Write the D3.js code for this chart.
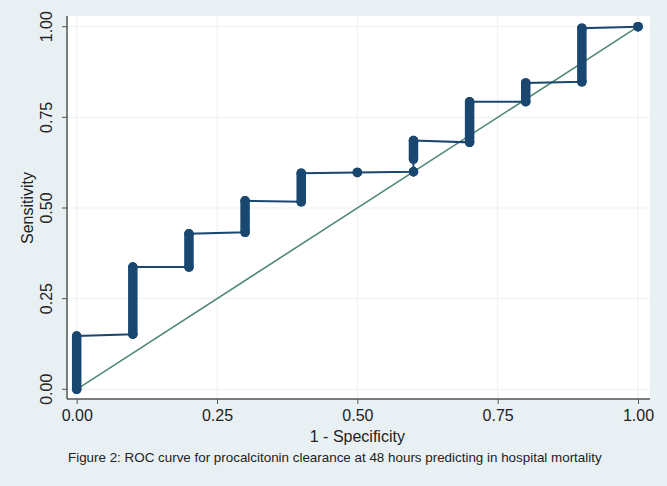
<!DOCTYPE html>
<html>
<head>
<meta charset="utf-8">
<script src="https://cdnjs.cloudflare.com/ajax/libs/d3/7.8.5/d3.min.js"></script>
<style>
  body { margin: 0; background: #e9f0f3; }
  svg { display: block; font-family: "Liberation Sans", Arial, sans-serif; }
</style>
</head>
<body>
<svg></svg>
<script>
  // ROC steps: false positive rate, lowest and highest sensitivity at that rate
  let fpr      = [0,     0.1,   0.2,   0.3,   0.4,   0.5,   0.6,   0.6,   0.7,   0.8,   0.9,   1.0];
  let sensLow  = [0,     0.152, 0.337, 0.433, 0.517, 0.598, 0.600, 0.635, 0.681, 0.793, 0.848, 1.0];
  let sensHigh = [0.147, 0.337, 0.429, 0.520, 0.596, 0.598, 0.600, 0.686, 0.793, 0.845, 0.996, 1.0];
  let ticks = [0, 0.25, 0.5, 0.75, 1];
  let xTitle = "1 - Specificity";
  let yTitle = "Sensitivity";
  let caption = "Figure 2: ROC curve for procalcitonin clearance at 48 hours predicting in hospital mortality";

  let width = 667, height = 486;
  let plot = {left: 67, right: 650, top: 16, bottom: 399};
  let svg = d3.select("svg").attr("width", width).attr("height", height);

  svg.append("rect").attr("width", width).attr("height", height).attr("fill", "#e9f0f3");
  svg.append("rect")
    .attr("x", plot.left).attr("y", plot.top)
    .attr("width", plot.right - plot.left).attr("height", plot.bottom - plot.top)
    .attr("fill", "#ffffff");

  let x = d3.scaleLinear().domain([0, 1]).range([76.7, 638]);
  let y = d3.scaleLinear().domain([0, 1]).range([389.3, 26.7]);

  // grid
  let grid = svg.append("g").attr("stroke", "#eaf1f3").attr("stroke-width", 1);
  ticks.forEach(function(t) {
    grid.append("line").attr("x1", plot.left).attr("x2", plot.right).attr("y1", y(t)).attr("y2", y(t));
    grid.append("line").attr("y1", plot.top).attr("y2", plot.bottom).attr("x1", x(t)).attr("x2", x(t));
  });

  // axes
  let fmt = d3.format(".2f");
  let yAxis = svg.append("g").attr("transform", "translate(" + plot.left + ",0)")
    .call(d3.axisLeft(y).tickValues(ticks).tickFormat(fmt).tickSize(5).tickPadding(4));
  let xAxis = svg.append("g").attr("transform", "translate(0," + plot.bottom + ")")
    .call(d3.axisBottom(x).tickValues(ticks).tickFormat(fmt).tickSize(5).tickPadding(6));
  [xAxis, yAxis].forEach(function(a) {
    a.select(".domain").remove();
    a.selectAll("line").attr("stroke", "#555");
    a.selectAll("text").attr("fill", "#222").style("font-size", "16px")
      .style("font-family", "'Liberation Sans', Arial, sans-serif");
  });
  yAxis.selectAll(".tick").attr("transform", "translate(0,0)");
  yAxis.selectAll(".tick line").attr("y1", d => y(d)).attr("y2", d => y(d));
  yAxis.selectAll("text")
    .attr("text-anchor", "middle")
    .attr("x", 0).attr("y", 0).attr("dy", 0)
    .attr("transform", d => "translate(-15," + y(d) + ") rotate(-90)");

  svg.append("line").attr("x1", plot.left).attr("x2", plot.left).attr("y1", plot.top).attr("y2", plot.bottom)
    .attr("stroke", "#555").attr("stroke-width", 1.5);
  svg.append("line").attr("x1", plot.left).attr("x2", plot.right).attr("y1", plot.bottom).attr("y2", plot.bottom)
    .attr("stroke", "#555").attr("stroke-width", 1.5);

  // reference diagonal
  svg.append("line")
    .attr("x1", x(0)).attr("y1", y(0)).attr("x2", x(1)).attr("y2", y(1))
    .attr("stroke", "#4f8a6e").attr("stroke-width", 1.6);

  // step line through all points
  let pts = [];
  fpr.forEach(function(f, i) {
    pts.push([f, sensLow[i]]);
    pts.push([f, sensHigh[i]]);
  });
  let navy = "#1a476f";
  svg.append("path")
    .datum(pts)
    .attr("fill", "none").attr("stroke", navy).attr("stroke-width", 2)
    .attr("d", d3.line().x(d => x(d[0])).y(d => y(d[1])));

  // markers: dense runs of points drawn as thick rounded bars
  let marks = svg.append("g");
  fpr.forEach(function(f, i) {
    marks.append("line")
      .attr("x1", x(f)).attr("x2", x(f))
      .attr("y1", y(sensLow[i])).attr("y2", y(sensHigh[i]))
      .attr("stroke", navy).attr("stroke-width", 9.5).attr("stroke-linecap", "round");
    marks.append("circle").attr("cx", x(f)).attr("cy", y(sensLow[i])).attr("r", 4.75).attr("fill", navy);
    marks.append("circle").attr("cx", x(f)).attr("cy", y(sensHigh[i])).attr("r", 4.75).attr("fill", navy);
  });

  // titles
  svg.append("text").attr("x", (x(0) + x(1)) / 2).attr("y", 441.7)
    .attr("text-anchor", "middle").attr("fill", "#222").style("font-size", "16px").text(xTitle);
  svg.append("text").attr("transform", "translate(33," + ((y(0) + y(1)) / 2) + ") rotate(-90)")
    .attr("text-anchor", "middle").attr("fill", "#222").style("font-size", "16px").text(yTitle);
  svg.append("text").attr("x", 68).attr("y", 462)
    .attr("fill", "#222").style("font-size", "13.4px").text(caption);
</script>
</body>
</html>
